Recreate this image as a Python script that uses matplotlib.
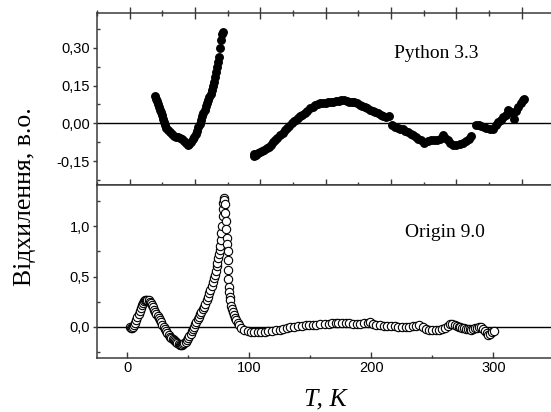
import numpy as np
import matplotlib
matplotlib.use('Agg')
import matplotlib.pyplot as plt
from matplotlib.ticker import MultipleLocator, FixedLocator, FixedFormatter

# Python 3.3 deviation (top panel), filled points
py_T1 = [19.2, 20.0, 20.8, 21.6, 22.4, 23.2, 24.0, 24.8, 25.6, 26.4, 27.2, 28.2, 29.5, 31.0, 32.5,
         34.0, 35.5, 37.0, 38.5, 40.0, 41.5, 43.0, 44.4, 45.8, 47.0, 48.2, 49.4, 50.5, 51.5, 52.5,
         53.5, 54.5, 55.5, 56.4, 57.4, 58.4, 59.3, 60.2, 61.0, 61.9, 62.8, 63.6, 64.5, 65.4, 66.2,
         67.0, 67.8, 68.5, 69.2, 69.8, 70.5, 71.3]
py_D1 = [0.108, 0.098, 0.088, 0.078, 0.066, 0.055, 0.044, 0.032, 0.018, 0.005, -0.008, -0.020, -0.028,
         -0.036, -0.044, -0.050, -0.053, -0.055, -0.058, -0.064, -0.070, -0.078, -0.086, -0.082,
         -0.074, -0.064, -0.054, -0.042, -0.030, -0.016, -0.003, 0.012, 0.028, 0.040, 0.055, 0.068,
         0.080, 0.092, 0.105, 0.118, 0.132, 0.148, 0.165, 0.185, 0.205, 0.225, 0.245, 0.265, 0.298,
         0.330, 0.357, 0.364]

py_T2 = [94.9, 95.5, 96.5, 98, 100, 101.5, 103, 105, 106.5, 108, 110, 111.5, 113, 115, 117, 119,
         120.5, 122, 124, 125.5, 127, 128.5, 130, 132, 134, 136, 138, 140, 142, 144, 146, 148, 150,
         152, 154, 156, 158, 160, 162, 164, 166, 168, 170, 172, 174, 176, 178, 180, 182, 184, 186,
         188, 190, 192, 194, 196, 198.5, 201, 203, 205, 207, 209, 211, 213, 215, 217, 219, 221, 223,
         225.5, 228, 230.5, 233, 235.5, 237.5, 239.5, 241.5, 243.5, 245.5, 247.5, 250, 252.5, 255,
         257.5, 259.5, 261.5,
         265.4, 267, 269, 271, 273, 275.5, 278, 280, 282, 284, 286, 288, 289.7, 291.5, 293.6, 294.4,
         296, 297.5, 299.5, 301.3, 302]
py_D2 = [-0.130, -0.120, -0.125, -0.118, -0.113, -0.110, -0.104, -0.099, -0.092, -0.085, -0.073,
         -0.066, -0.058, -0.046, -0.038, -0.028, -0.020, -0.012, 0.0, 0.008, 0.015, 0.022, 0.028,
         0.035, 0.042, 0.050, 0.060, 0.066, 0.072, 0.077, 0.080, 0.080, 0.082, 0.083, 0.084, 0.086,
         0.088, 0.089, 0.091, 0.093, 0.090, 0.084, 0.085, 0.086, 0.080, 0.074, 0.070, 0.066, 0.060,
         0.054, 0.050, 0.044, 0.040, 0.034, 0.030, 0.027, 0.030, -0.005, -0.016, -0.020, -0.022,
         -0.024, -0.030, -0.036, -0.042, -0.048, -0.055, -0.062, -0.068, -0.077, -0.070, -0.066,
         -0.068, -0.068, -0.062, -0.046, -0.058, -0.068, -0.080, -0.086, -0.086, -0.082, -0.078,
         -0.070, -0.062, -0.050,
         -0.005, -0.007, -0.010, -0.016, -0.020, -0.024, -0.024, -0.008, 0.005, 0.015, 0.025, 0.035,
         0.055, 0.045, 0.040, 0.016, 0.050, 0.066, 0.080, 0.092, 0.098]

# Origin 9.0 deviation (bottom panel), open circles
or_T = [2.3, 3.0, 3.6, 4.5, 5.5, 6.4, 7.3, 8.2, 9.1, 10.0, 11.0, 11.9, 12.8, 13.7, 14.6, 15.5, 16.4,
        17.4, 18.3, 19.2, 20.2, 21.1, 22.0, 22.9, 23.8, 24.7, 25.6, 26.5, 27.5, 28.6, 29.8, 30.8,
        31.8, 32.8, 33.9, 35, 36, 37, 38, 39, 40, 41, 42, 43, 43.5, 44.5, 45.5, 46.6, 47.7, 48.7,
        49.7, 50.8, 51.8, 52.7, 53.6, 54.5, 55.5, 56.6, 57.7, 58.7, 59.7, 60.7, 61.8, 62.8, 63.8,
        64.9, 66.0, 67.0, 68.0, 69.0, 70.1, 71.1, 71.8, 72.5, 73.2, 73.8, 74.4, 75.0, 75.5, 76.0,
        76.5, 77.1, 77.5, 78.0, 78.3, 78.6, 78.8, 79.3, 79.9, 80.3, 80.7, 81.1, 81.5, 81.8, 82.1,
        82.1, 82.3, 82.6, 82.9, 83.3, 83.8, 84.3, 85.0, 85.6, 86.2, 87.0, 88.0, 89.0, 90.3, 91.7,
        93.5, 95.9, 98.5, 101.3, 104, 107, 109.6, 112.5, 115.5, 118.5, 121.5, 124.7, 127.5, 130.5,
        133.5, 136.5, 139.9, 143, 146, 149, 152, 155, 158, 161.9, 165, 168, 171, 173, 176, 179, 182,
        185, 188, 191, 194, 197, 198.5, 201.5, 204, 207, 210, 213, 216, 219, 222, 225, 228, 231, 234,
        237, 239, 242, 244.7, 247.5, 250, 252.7, 255.5, 258, 260, 262.5, 264.5, 266.5, 268.5, 270,
        271.5, 273, 274.5, 276, 277.5, 279, 280.5, 282, 283.5, 285, 286.5, 288, 289.9, 291.5, 293,
        294.5, 296, 297.5, 299, 300.9]
or_D = [0.0, -0.01, -0.016, -0.005, 0.02, 0.034, 0.065, 0.10, 0.13, 0.16, 0.19, 0.217, 0.24, 0.255,
        0.265, 0.27, 0.27, 0.265, 0.25, 0.235, 0.217, 0.195, 0.172, 0.15, 0.128, 0.105, 0.085, 0.067,
        0.045, 0.022, 0.0, -0.02, -0.042, -0.062, -0.083, -0.10, -0.115, -0.125, -0.133, -0.142,
        -0.152, -0.16, -0.17, -0.178, -0.183, -0.18, -0.172, -0.162, -0.15, -0.13, -0.11, -0.09,
        -0.067, -0.045, -0.022, 0.0, 0.025, 0.05, 0.075, 0.10, 0.125, 0.15, 0.175, 0.2, 0.23, 0.265,
        0.30, 0.333, 0.37, 0.41, 0.445, 0.483, 0.52, 0.56, 0.60, 0.633, 0.68, 0.72, 0.76, 0.80, 0.865,
        0.933, 1.0, 1.10, 1.17, 1.23, 1.28, 1.26, 1.217, 1.13, 1.05, 0.97, 0.883, 0.82, 0.75, 0.66,
        0.567, 0.48, 0.40, 0.35, 0.30, 0.267, 0.21, 0.18, 0.15, 0.12, 0.09, 0.067, 0.04, 0.017, -0.01,
        -0.033, -0.045, -0.05, -0.05, -0.052, -0.05, -0.05, -0.045, -0.04, -0.036, -0.033, -0.02,
        -0.012, -0.005, 0.0, 0.007, 0.01, 0.014, 0.017, 0.02, 0.022, 0.025, 0.027, 0.03, 0.034,
        0.037, 0.04, 0.038, 0.036, 0.034, 0.033, 0.033, 0.033, 0.035, 0.04, 0.05, 0.03, 0.02, 0.017,
        0.012, 0.01, 0.007, 0.004, 0.002, 0.0, 0.0, 0.003, 0.007, 0.012, 0.017, 0.0, -0.017, -0.027,
        -0.033, -0.033, -0.03, -0.022, -0.01, 0.01, 0.025, 0.027, 0.02, 0.01, 0.0, -0.005, -0.01,
        -0.015, -0.017, -0.02, -0.024, -0.027, -0.02, -0.015, -0.01, -0.005, 0.0, -0.02, -0.04,
        -0.06, -0.08, -0.07, -0.05, -0.04]

top_yticks = [-0.15, 0.0, 0.15, 0.30]
top_ylabels = ['-0,15', '0,00', '0,15', '0,30']
bot_yticks = [0.0, 0.5, 1.0]
bot_ylabels = ['0,0', '0,5', '1,0']

serif = 'Liberation Serif'
sans = 'Liberation Sans'
spc = '#3a3a3a'

fig = plt.figure(figsize=(5.51, 4.12), dpi=100)
ax1 = fig.add_axes([0.176, 0.551, 0.83, 0.417])
ax2 = fig.add_axes([0.176, 0.131, 0.83, 0.420])

# top panel
ax1.plot(py_T1, py_D1, 'o', color='black', ms=5.4, mec='black')
ax1.plot(py_T2, py_D2, 'o', color='black', ms=5.4, mec='black')
ax1.axhline(0, color='black', lw=1.0, zorder=1)
ax1.set_xlim(-25, 325)
ax1.set_ylim(-0.245, 0.438)
ax1.xaxis.set_major_locator(MultipleLocator(50))
ax1.xaxis.set_minor_locator(MultipleLocator(25))
ax1.set_xticklabels([])
ax1.yaxis.set_major_locator(FixedLocator(top_yticks))
ax1.yaxis.set_major_formatter(FixedFormatter(top_ylabels))
ax1.yaxis.set_minor_locator(MultipleLocator(0.075))
ax1.text(0.742, 0.767, 'Python 3.3', transform=ax1.transAxes, ha='center', va='center',
         fontsize=14, family=serif)

# bottom panel
ax2.plot(or_T, or_D, 'o', mfc='white', mec='black', ms=6.0, mew=0.8)
ax2.axhline(0, color='black', lw=1.0, zorder=1)
ax2.set_xlim(-25, 350)
ax2.set_ylim(-0.31, 1.41)
ax2.xaxis.set_major_locator(MultipleLocator(100))
ax2.xaxis.set_minor_locator(MultipleLocator(50))
ax2.yaxis.set_major_locator(FixedLocator(bot_yticks))
ax2.yaxis.set_major_formatter(FixedFormatter(bot_ylabels))
ax2.yaxis.set_minor_locator(MultipleLocator(0.25))
ax2.text(0.76, 0.728, 'Origin 9.0', transform=ax2.transAxes, ha='center', va='center',
         fontsize=14, family=serif)

for ax in (ax1, ax2):
    for s in ax.spines.values():
        s.set_color(spc)
        s.set_linewidth(1.1)
    ax.tick_params(axis='y', which='major', direction='out', length=3, width=1, color=spc,
                   labelsize=10.5, pad=2)
    ax.tick_params(axis='y', which='minor', direction='in', length=2.5, width=1, color=spc)
    ax.tick_params(axis='y', which='both', right=True)
    for lab in ax.get_yticklabels():
        lab.set_family(sans)

ax1.tick_params(axis='x', which='major', top=True, bottom=True, direction='inout', length=8,
                width=1, color=spc)
ax1.tick_params(axis='x', which='minor', top=True, bottom=True, direction='inout', length=4,
                width=1, color=spc)
ax1.tick_params(axis='x', which='both', labelbottom=False)
ax2.tick_params(axis='x', which='major', direction='in', length=4, width=1, color=spc,
                labelsize=10.5, pad=2)
ax2.tick_params(axis='x', which='minor', direction='in', length=2.5, width=1, color=spc)
for lab in ax2.get_xticklabels():
    lab.set_family(sans)

ax2.set_xlabel('T, K', fontsize=18.5, family=serif, style='italic', labelpad=10)
fig.text(0.045, 0.522, 'Відхилення, в.о.', rotation=90, ha='center', va='center',
         fontsize=18.5, family=serif)

fig.savefig('out.png', dpi=100)
